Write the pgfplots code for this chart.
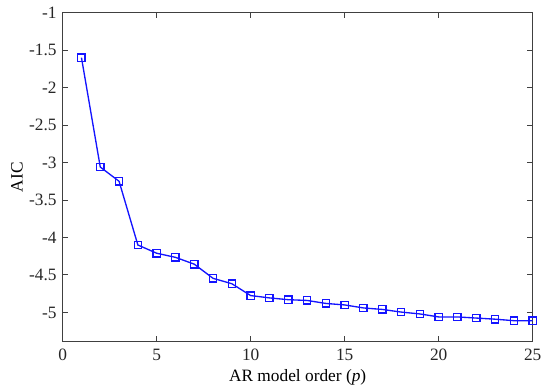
\documentclass[border=0pt]{standalone}
\usepackage{pgfplots}
\pgfplotsset{compat=1.18}
\usepackage{fontspec}
\setmainfont{Liberation Serif}
\definecolor{mblue}{RGB}{20,20,255}
\begin{document}
\fontsize{13}{15}\selectfont
\begin{tikzpicture}
\useasboundingbox (-47pt,-34.7pt) rectangle (359.5pt,256.25pt);
\begin{axis}[
  at={(0,0)}, anchor=south west,
  scale only axis,
  width=352.5pt, height=246.75pt,
  xmin=0, xmax=25, ymin=-5.39, ymax=-1,
  xtick={0,5,10,15,20,25},
  ytick={-5,-4.5,-4,-3.5,-3,-2.5,-2,-1.5,-1},
  yticklabels={-5,-4.5,-4,-3.5,-3,-2.5,-2,-1.5,-1},
  xticklabels={0,5,10,15,20,25},
  tick align=inside,
  major tick length=4pt,
  tick style={black!75, line width=0.7pt},
  axis line style={black!75, line width=0.7pt},
  ticklabel style={font=\fontsize{13}{15}\selectfont, text=black!85},
  label style={font=\fontsize{13}{15}\selectfont, text=black!85},
  xticklabel style={yshift=-1pt},
  every axis x label/.style={at={(axis description cs:0.5,0)}, yshift=-27pt, anchor=center},
  every axis y label/.style={at={(axis description cs:0,0.5)}, xshift=-34.3pt, rotate=90, anchor=center},
  xlabel={AR model order (\textit{p})},
  ylabel={AIC},
]
\addplot[color=mblue, line width=1pt, mark=square, mark size=2.75pt, mark options={draw=mblue, fill=none, solid, line width=1pt}] coordinates {
(1,-1.60) (2,-3.06) (3,-3.25) (4,-4.10) (5,-4.21) (6,-4.265) (7,-4.356)
(8,-4.545) (9,-4.617) (10,-4.775) (11,-4.806) (12,-4.83) (13,-4.84)
(14,-4.88) (15,-4.90) (16,-4.94) (17,-4.96) (18,-4.995) (19,-5.02)
(20,-5.06) (21,-5.06) (22,-5.075) (23,-5.09) (24,-5.11) (25,-5.11)
};
\end{axis}
\end{tikzpicture}
\end{document}
